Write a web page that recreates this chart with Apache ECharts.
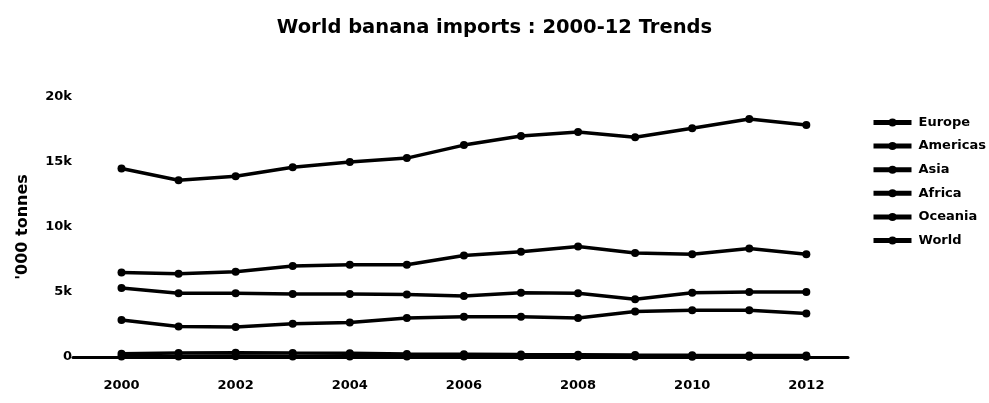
<!DOCTYPE html>
<html>
<head>
<meta charset="utf-8">
<title>World banana imports : 2000-12 Trends</title>
<script src="https://cdn.jsdelivr.net/npm/echarts@6/dist/echarts.min.js"></script>
<style>
  html, body { margin: 0; padding: 0; background: #fff; }
  #chart { width: 989px; height: 403px; }
</style>
</head>
<body>
<div id="chart"></div>
<script>
// Years on the horizontal axis
const years = [2000, 2001, 2002, 2003, 2004, 2005, 2006, 2007, 2008, 2009, 2010, 2011, 2012];
const yearLabels = [2000, 2002, 2004, 2006, 2008, 2010, 2012];

// Banana imports by region, '000 tonnes
const europe   = [6500, 6400, 6550, 7000, 7100, 7100, 7800, 8100, 8500, 8000, 7900, 8350, 7900];
const americas = [5300, 4900, 4900, 4850, 4850, 4800, 4700, 4950, 4900, 4450, 4950, 5000, 5000];
const asia     = [2850, 2350, 2300, 2550, 2650, 3000, 3100, 3100, 3000, 3500, 3600, 3600, 3350];
const africa   = [250, 300, 320, 300, 290, 240, 220, 190, 180, 150, 130, 120, 110];
const oceania  = [40, 45, 50, 45, 40, 35, 40, 35, 30, 30, 25, 25, 20];
const world    = [14500, 13600, 13900, 14600, 15000, 15300, 16300, 17000, 17300, 16900, 17600, 18300, 17850];

const seriesNames = ['Europe', 'Americas', 'Asia', 'Africa', 'Oceania', 'World'];
const seriesValues = [europe, americas, asia, africa, oceania, world];

// Value-axis tick labels
const yTickValues = [0, 5000, 10000, 15000, 20000];
const yTickLabels = ['0', '5k', '10k', '15k', '20k'];

const FONT = '"DejaVu Sans", Verdana, sans-serif';
const INK = '#000';

const chart = echarts.init(document.getElementById('chart'), null, { renderer: 'canvas' });

chart.setOption({
  backgroundColor: '#fff',
  animation: false,
  color: [INK, INK, INK, INK, INK, INK],
  textStyle: { fontFamily: FONT, color: INK },
  title: {
    text: 'World banana imports : 2000-12 Trends',
    left: 'center',
    top: 18,
    padding: 0,
    textStyle: { fontFamily: FONT, fontSize: 19.5, fontWeight: 'bold', color: INK }
  },
  legend: {
    orient: 'vertical',
    left: 871,
    top: 116,
    padding: 0,
    itemWidth: 38,
    itemHeight: 10,
    itemGap: 10.6,
    data: seriesNames,
    textStyle: { fontFamily: FONT, fontSize: 13, fontWeight: 'bold', color: INK, padding: [0, 0, 0, 2] },
    lineStyle: { width: 5, color: INK },
    itemStyle: { color: INK }
  },
  grid: { left: 73, right: 141, top: 97, bottom: 46, containLabel: false },
  xAxis: {
    type: 'value',
    min: 1999.15,
    max: 2012.73,
    splitLine: { show: false },
    axisTick: { show: false },
    axisLine: { show: true, onZero: true, lineStyle: { color: INK, width: 3 } },
    axisLabel: {
      customValues: yearLabels,
      margin: 22,
      fontFamily: FONT,
      fontSize: 13,
      fontWeight: 'bold',
      color: INK,
      formatter: v => String(v)
    }
  },
  yAxis: {
    type: 'value',
    min: 0,
    max: 20000,
    interval: 5000,
    name: "'000 tonnes",
    nameLocation: 'middle',
    nameRotate: 90,
    nameGap: 42,
    nameTextStyle: { fontFamily: FONT, fontSize: 16, fontWeight: 'bold', color: INK },
    splitLine: { show: false },
    axisTick: { show: false },
    axisLine: { show: false },
    axisLabel: {
      margin: 1,
      fontFamily: FONT,
      fontSize: 13,
      fontWeight: 'bold',
      color: INK,
      formatter: v => yTickLabels[yTickValues.indexOf(v)]
    }
  },
  series: seriesNames.map((name, i) => ({
    name: name,
    type: 'line',
    data: years.map((y, j) => [y, seriesValues[i][j]]),
    symbol: 'circle',
    symbolSize: 8,
    showSymbol: true,
    lineStyle: { width: 3.5, color: INK },
    itemStyle: { color: INK },
    emphasis: { disabled: true }
  }))
});
</script>
</body>
</html>
